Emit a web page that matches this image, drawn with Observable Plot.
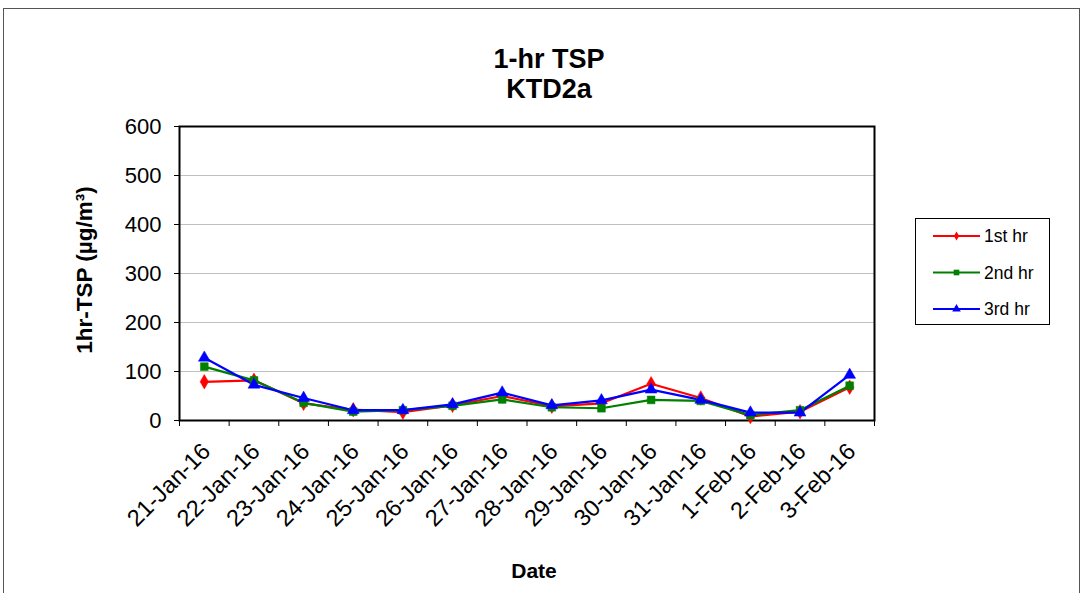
<!DOCTYPE html>
<html><head><meta charset="utf-8">
<script src="https://cdn.jsdelivr.net/npm/d3@7"></script>
<script src="https://cdn.jsdelivr.net/npm/@observablehq/plot@0.6"></script>
<style>
body{margin:0;background:#fff;font-family:"Liberation Sans",Arial,sans-serif;}
#wrap{position:relative;width:1083px;height:593px;overflow:hidden;background:#fff}
#border{position:absolute;left:3px;top:8px;width:1077px;height:640px;border:1px solid #555;box-sizing:border-box}
#chart{position:absolute;left:0;top:0}
.title{position:absolute;left:449px;top:45px;width:200px;text-align:center;font-weight:bold;font-size:27px;line-height:29.5px;white-space:nowrap}
.xlab{position:absolute;left:434px;top:558.5px;width:200px;text-align:center;font-weight:bold;font-size:21px;line-height:24px}
.ylab{position:absolute;left:84.5px;top:270px;transform:translate(-50%,-50%) rotate(-90deg);font-weight:bold;font-size:22.5px;line-height:22px;white-space:nowrap}
#legend{position:absolute;left:915px;top:218px;width:135px;height:107px;border:1px solid #000;box-sizing:border-box;background:#fff}
</style></head>
<body>
<div id="wrap">
  <div id="border"></div>
  <div id="chart"></div>
  <div class="title">1-hr TSP<br>KTD2a</div>
  <div class="xlab">Date</div>
  <div class="ylab">1hr-TSP (µg/m³)</div>
  <div id="legend"></div>
</div>
<script>
const dates = ["21-Jan-16","22-Jan-16","23-Jan-16","24-Jan-16","25-Jan-16","26-Jan-16","27-Jan-16","28-Jan-16","29-Jan-16","30-Jan-16","31-Jan-16","1-Feb-16","2-Feb-16","3-Feb-16"];
const hr1 = [79, 82, 35, 22, 17, 31, 50, 29, 35, 75, 46, 8, 18, 68];
const hr2 = [110, 82, 36, 18, 21, 30, 43, 27, 25, 42, 40, 11, 21, 71];
const hr3 = [128, 73, 46, 21, 21, 33, 57, 31, 41, 63, 42, 16, 16, 93];
const seriesNames = ["1st hr","2nd hr","3rd hr"];
const seriesColors = ["#ff0000","#008000","#0000ff"];
const seriesSymbols = ["diamond","square","triangle"];
const yTicks = [0,100,200,300,400,500,600];

const values = [hr1, hr2, hr3];
const data = [];
values.forEach((arr, s) => arr.forEach((v, i) => data.push({i, date: dates[i], value: v, series: seriesNames[s]})));

const idx = d3.range(dates.length);
const edges = d3.range(dates.length + 1).map(i => i - 0.5);

const chart = Plot.plot({
  width: 1083, height: 593,
  marginLeft: 179, marginRight: 209, marginTop: 126, marginBottom: 173,
  style: {fontFamily: "'Liberation Sans', Arial, sans-serif", fontSize: "20px", color: "#000", background: "transparent"},
  x: {type: "linear", domain: [-0.5, dates.length - 0.5]},
  y: {domain: [0, 600]},
  color: {domain: seriesNames, range: seriesColors},
  symbol: {domain: seriesNames, range: seriesSymbols},
  marks: [
    Plot.gridY(yTicks.filter(t => t > 0 && t < 600), {stroke: "#c0c0c0", strokeOpacity: 1, strokeWidth: 1}),
    Plot.axisY(yTicks, {tickSize: 5, tickPadding: 13, fontSize: 22, label: null, strokeWidth: 1}),
    Plot.axisX(edges, {tickSize: 6, tickFormat: () => "", label: null}),
    Plot.axisX(idx, {tickSize: 0, tickPadding: 27, tickRotate: -45, fontSize: 23.5, dx: 2, tickFormat: i => dates[i], label: null}),
    Plot.frame({stroke: "#000", strokeWidth: 2}),
    Plot.line(data, {x: "i", y: "value", z: "series", stroke: "series", strokeWidth: 2.2}),
    Plot.dot(data, {x: "i", y: "value", fill: "series", stroke: "series", symbol: "series", r: 4.4, strokeWidth: 0.5})
  ]
});
document.getElementById("chart").appendChild(chart);

// legend
const lg = d3.select("#legend").append("svg").attr("width", 133).attr("height", 105).attr("style", "position:absolute;left:0;top:0;overflow:visible");
seriesNames.forEach((name, k) => {
  const cy = 17 + k * 36.5;
  const g = lg.append("g");
  g.append("line").attr("x1", 17).attr("x2", 64).attr("y1", cy).attr("y2", cy).attr("stroke", seriesColors[k]).attr("stroke-width", 2);
  const sym = [d3.symbolDiamond, d3.symbolSquare, d3.symbolTriangle][k];
  const size = [24, 32, 32][k];
  g.append("path").attr("d", d3.symbol(sym, size)()).attr("transform", `translate(40.5,${cy})`).attr("fill", seriesColors[k]);
  g.append("text").attr("x", 68).attr("y", cy).attr("dy", "0.36em").attr("font-size", 17.5).attr("font-family", "'Liberation Sans', Arial, sans-serif").text(name);
});
</script>
</body></html>
